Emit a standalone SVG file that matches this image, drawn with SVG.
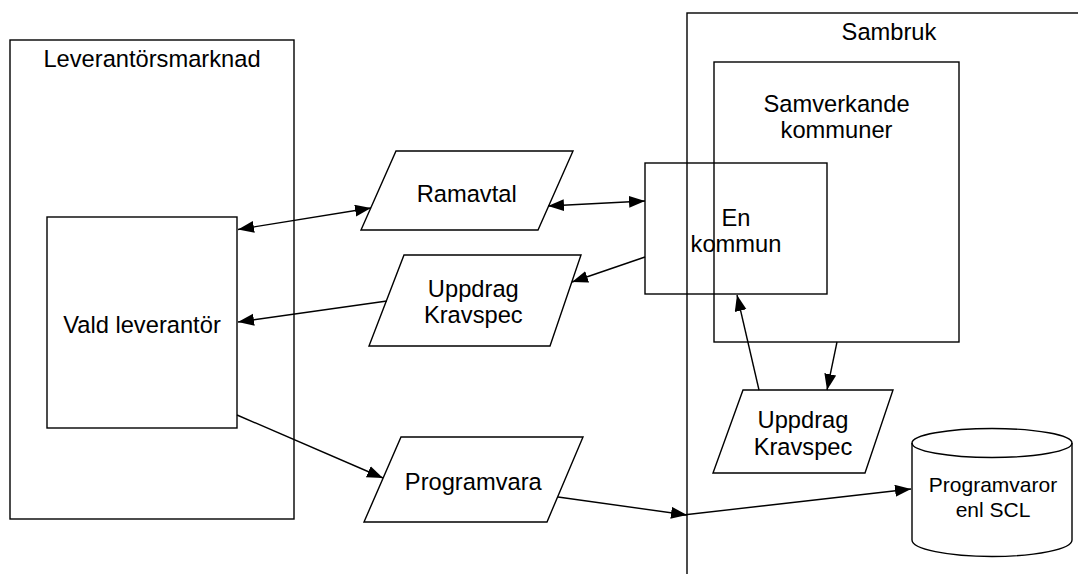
<svg xmlns="http://www.w3.org/2000/svg" width="1078" height="574" viewBox="0 0 1078 574">
  <style>
    .shape { fill: none; stroke: #000; stroke-width: 1.4; }
    .conn { fill: none; stroke: #000; stroke-width: 1.4; }
    .lbl { font-family: "Liberation Sans", Arial, sans-serif; font-size: 23.7px; fill: #000; text-anchor: middle; }
    .small { font-size: 21px; }
  </style>
  <defs>
    <marker id="arrow" markerUnits="userSpaceOnUse" markerWidth="17" markerHeight="13" refX="16" refY="6" orient="auto-start-reverse" viewBox="0 0 17 13">
      <path d="M0,0 L16,6 L0,12 z" fill="#000"/>
    </marker>
  </defs>
  <rect width="1078" height="574" fill="#fff"/>

  <g id="leverantorsmarknad">
    <rect class="shape" x="10" y="40" width="284" height="479"/>
    <text class="lbl" x="152" y="67.3">Leverantörsmarknad</text>
  </g>
  <g id="vald-leverantor">
    <rect class="shape" x="47" y="217" width="190" height="211"/>
    <text class="lbl" x="142" y="333">Vald leverantör</text>
  </g>
  <g id="ramavtal">
    <polygon class="shape" points="396,151 573,151 538,230 361,230"/>
    <text class="lbl" x="466.7" y="201.7">Ramavtal</text>
  </g>
  <g id="uppdrag-left">
    <polygon class="shape" points="404,255 581,255 550,346 369,346"/>
    <text class="lbl" x="473.3" y="296.7">Uppdrag</text>
    <text class="lbl" x="473.3" y="322.7">Kravspec</text>
  </g>
  <g id="programvara">
    <polygon class="shape" points="401,437 583,437 547,522 364,522"/>
    <text class="lbl" x="473.3" y="490">Programvara</text>
  </g>
  <g id="sambruk">
    <rect class="shape" x="687" y="13" width="404" height="600"/>
    <text class="lbl" x="889" y="40">Sambruk</text>
  </g>
  <g id="samverkande-kommuner">
    <rect class="shape" x="714" y="62" width="245" height="280"/>
    <text class="lbl" x="836.5" y="111.7">Samverkande</text>
    <text class="lbl" x="836.5" y="138">kommuner</text>
  </g>
  <g id="en-kommun">
    <rect class="shape" x="645" y="163" width="182" height="131"/>
    <text class="lbl" x="736" y="225.5">En</text>
    <text class="lbl" x="736" y="251.7">kommun</text>
  </g>
  <g id="uppdrag-right">
    <polygon class="shape" points="743,390 893,390 865,473 713,473"/>
    <text class="lbl" x="803" y="428.3">Uppdrag</text>
    <text class="lbl" x="803" y="455">Kravspec</text>
  </g>
  <g id="programvaror-scl">
    <path class="shape" d="M912,443 A80,14.5 0 0 1 1072,443 L1072,540 A80,16.5 0 0 1 912,540 Z"/>
    <path class="shape" d="M912,443 A80,14.5 0 0 0 1072,443"/>
    <text class="lbl small" x="993" y="491.7">Programvaror</text>
    <text class="lbl small" x="993" y="516.7">enl SCL</text>
  </g>

  <g id="connectors">
    <line class="conn" x1="238" y1="229.5" x2="371" y2="208" marker-start="url(#arrow)" marker-end="url(#arrow)"/>
    <line class="conn" x1="548" y1="206" x2="645" y2="201" marker-start="url(#arrow)" marker-end="url(#arrow)"/>
    <line class="conn" x1="645" y1="257" x2="572" y2="282" marker-end="url(#arrow)"/>
    <line class="conn" x1="387" y1="301" x2="238" y2="322" marker-end="url(#arrow)"/>
    <line class="conn" x1="237" y1="415" x2="383" y2="478" marker-end="url(#arrow)"/>
    <line class="conn" x1="558" y1="497" x2="687" y2="515" marker-end="url(#arrow)"/>
    <line class="conn" x1="683" y1="515" x2="911" y2="489" marker-end="url(#arrow)"/>
    <line class="conn" x1="759" y1="390" x2="737" y2="295" marker-end="url(#arrow)"/>
    <line class="conn" x1="837" y1="342" x2="827" y2="390" marker-end="url(#arrow)"/>
  </g>
</svg>
